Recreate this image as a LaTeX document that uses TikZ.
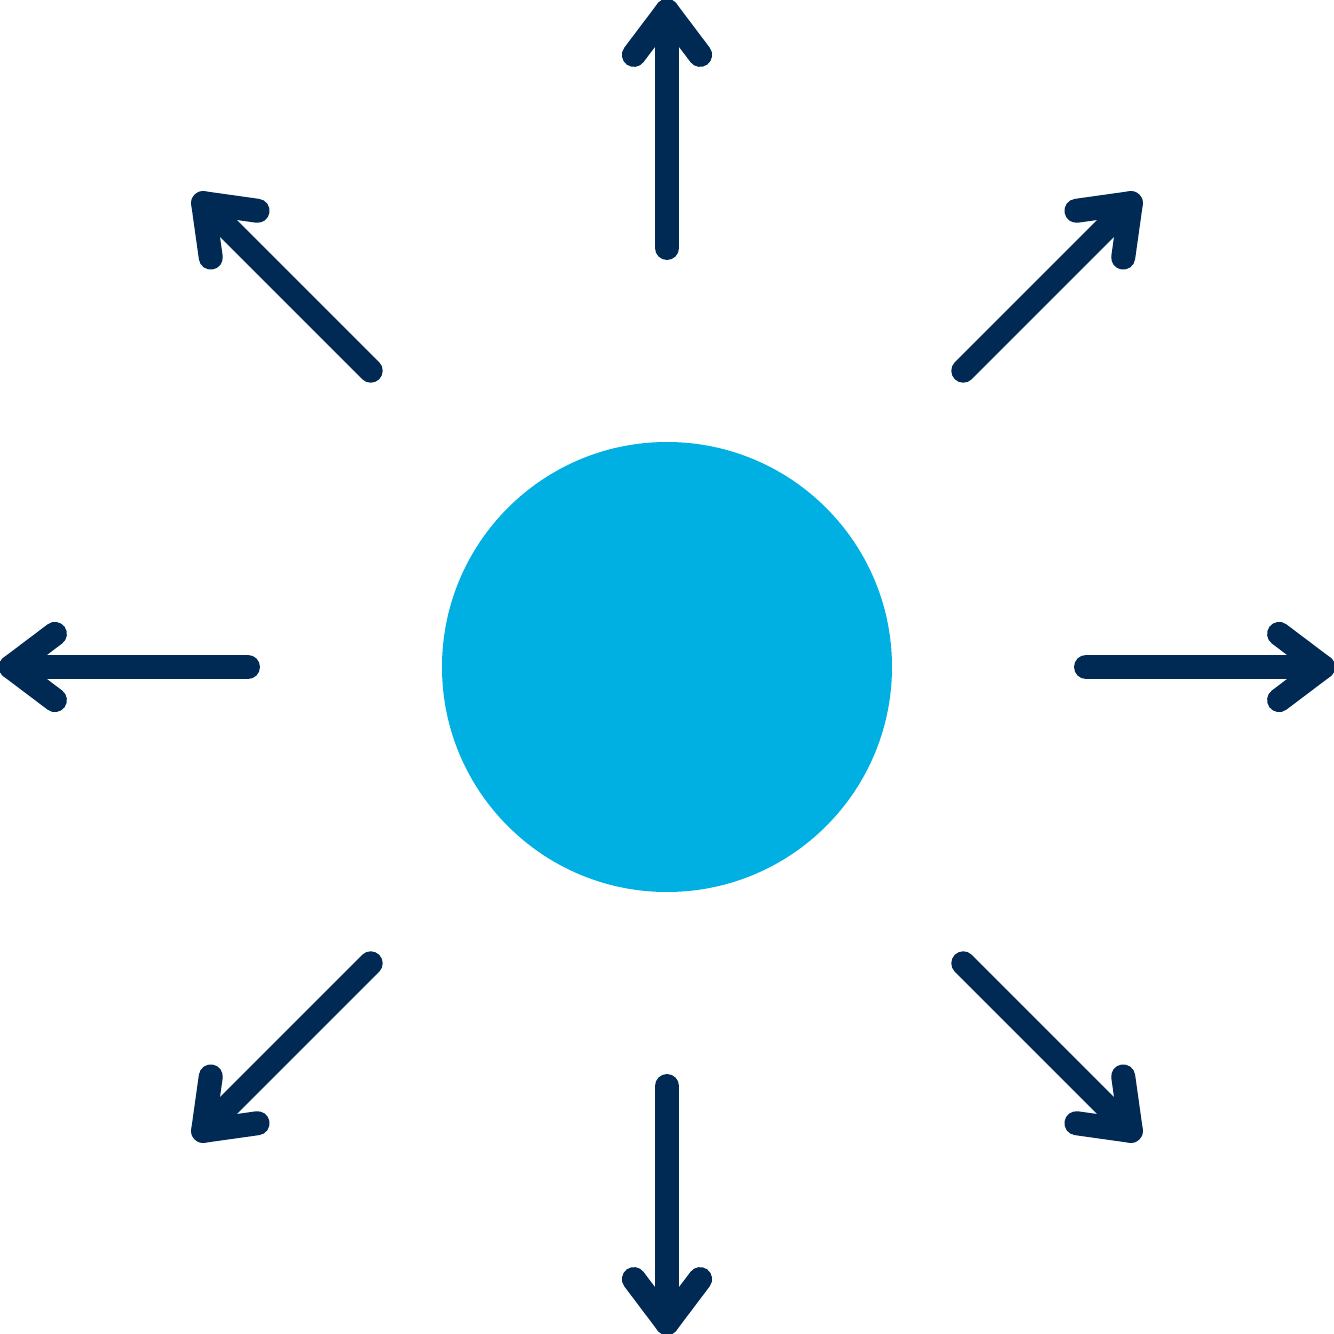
\documentclass[tikz,border=0pt]{standalone}
\usetikzlibrary{calc}
\definecolor{navy}{HTML}{002A54}
\definecolor{sky}{HTML}{00B0E3}
\begin{document}
\begin{tikzpicture}[x=1pt,y=1pt,
  ray/.style={draw=navy,line width=24pt,line cap=round,line join=round}]
\useasboundingbox (-667,-667) rectangle (667,667);
\node[circle,fill=sky,minimum size=450pt,inner sep=0pt] (hub) at (0,0) {};
\foreach \a [count=\i] in {0,45,...,315}{
  \coordinate (s\i) at (\a:419);
  \coordinate (t\i) at (\a:656);
  \coordinate (l\i) at ($(t\i)+(\a+180-37:55)$);
  \coordinate (r\i) at ($(t\i)+(\a+180+37:55)$);
  \draw[ray] (s\i) -- (t\i);
  \draw[ray] (l\i) -- (t\i) -- (r\i);
}
\end{tikzpicture}
\end{document}
